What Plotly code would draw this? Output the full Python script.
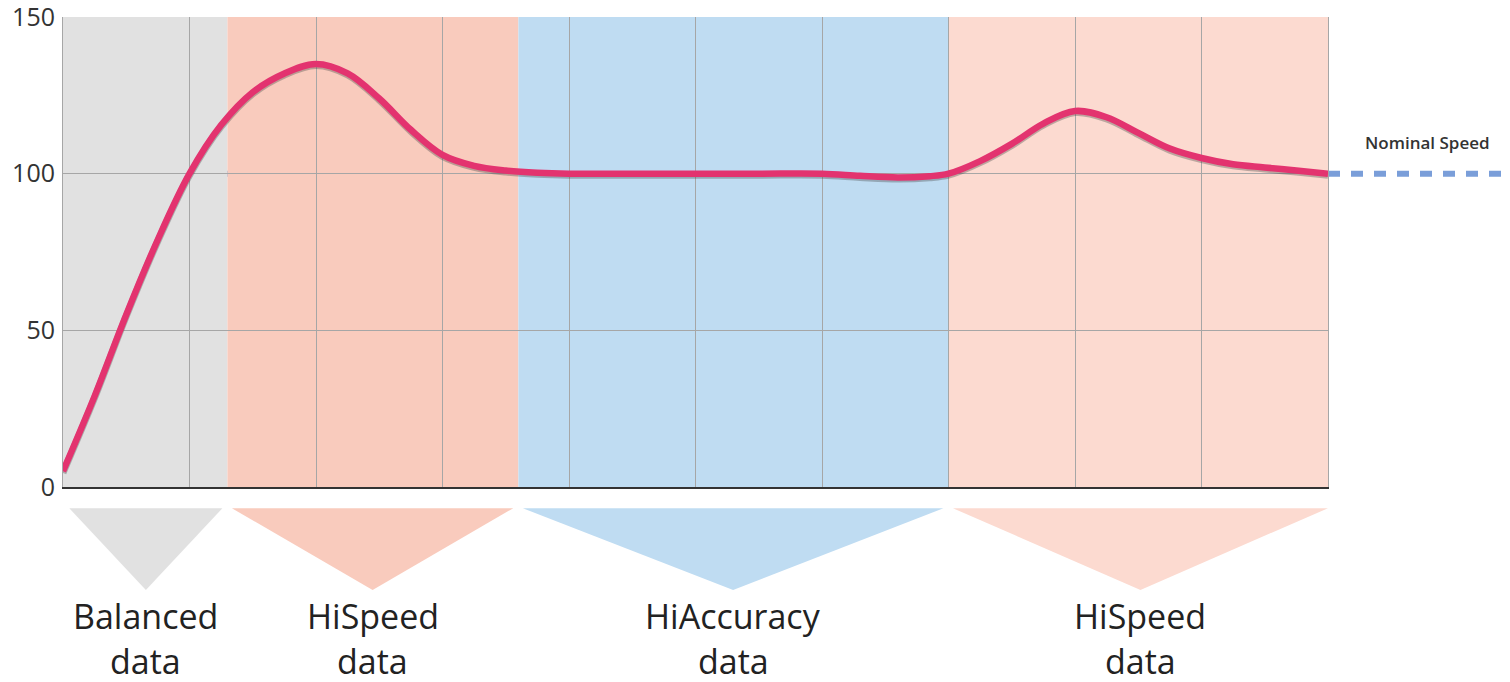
import plotly.graph_objects as go

# ---- data ----
speed_x = [0, 0.25, 0.5, 0.75, 1.0, 1.25, 1.5, 1.75, 2.0, 2.25, 2.5, 2.75, 3.0, 3.25, 3.5, 3.75,
           4.0, 4.5, 5.0, 5.5, 6.0, 6.3, 6.6, 6.85, 7.0, 7.25, 7.5, 7.75, 8.0, 8.25, 8.5, 8.75,
           9.0, 9.25, 9.5, 9.75, 10.0]
speed_y = [5, 29, 55, 79, 100, 115.5, 126, 132, 135, 132, 124, 114, 106, 102.5, 101, 100.3,
           100, 100, 100, 100, 100, 99.3, 98.8, 99.2, 100, 104, 109.5, 116, 120, 118, 113, 108,
           105, 103, 102, 101, 100]
nominal_speed = 100
nominal_label = "Nominal Speed"

band_edges = [0, 1.3, 3.6, 7.0, 10]
band_names = ["Balanced", "HiSpeed", "HiAccuracy", "HiSpeed"]
band_colors = ["#e1e1e1", "#f9cbbd", "#bfdcf2", "#fcdad0"]
band_sub = "data"

y_ticks = [0, 50, 100, 150]
x_grid = list(range(0, 11))

FONT = "Open Sans"

fig = go.Figure()

# soft shadow of the curve (same data on an overlay axis shifted ~1.5px down)
fig.add_trace(go.Scatter(
    x=speed_x, y=speed_y, mode="lines",
    line=dict(color="rgba(70,70,70,0.35)", width=7, shape="spline", smoothing=1.0),
    xaxis="x", yaxis="y2", hoverinfo="skip", showlegend=False))
# main curve (on an overlay axis with the same range so it sits above the shadow)
fig.add_trace(go.Scatter(
    x=speed_x, y=speed_y, mode="lines",
    line=dict(color="#e3336f", width=6.5, shape="spline", smoothing=1.0),
    xaxis="x", yaxis="y3", showlegend=False))

shapes = []
annotations = []
for i, name in enumerate(band_names):
    x0, x1 = band_edges[i], band_edges[i + 1]
    shapes.append(dict(type="rect", xref="x", yref="y", x0=x0, x1=x1, y0=0, y1=150,
                       fillcolor=band_colors[i], line=dict(width=0), layer="below"))
    t0 = x0 + (0.05 if i == 0 else 0.035)
    t1 = x1 - (0.0 if i == len(band_names) - 1 else 0.04)
    tm = (t0 + t1) / 2
    shapes.append(dict(type="path", xref="x", yref="paper",
                       path=f"M {t0},-0.045 L {t1},-0.045 L {tm},-0.219 Z",
                       fillcolor=band_colors[i], line=dict(width=0)))
    annotations.append(dict(text=name, xref="x", yref="paper", x=tm, y=-0.275,
                            showarrow=False, xanchor="center", yanchor="middle",
                            font=dict(family=FONT, size=34, color="#222")))
    annotations.append(dict(text=band_sub, xref="x", yref="paper", x=tm, y=-0.371,
                            showarrow=False, xanchor="center", yanchor="middle",
                            font=dict(family=FONT, size=34, color="#222")))

# nominal dashed line extending past the plot
shapes.append(dict(type="line", xref="paper", yref="y", x0=0, x1=1.2, y0=nominal_speed, y1=nominal_speed,
                   line=dict(color="#7a9ed9", width=6, dash="12px,11px"), layer="between"))
annotations.append(dict(text=nominal_label, xref="paper", yref="y", x=1.079, y=nominal_speed + 9.8,
                        showarrow=False, xanchor="center", yanchor="middle",
                        font=dict(family=FONT, size=17, color="#333", weight=600)))

fig.update_layout(
    width=1502, height=674,
    margin=dict(l=55, r=182, t=9, b=195, autoexpand=False),
    paper_bgcolor="white", plot_bgcolor="white",
    shapes=shapes, annotations=annotations, showlegend=False,
    xaxis=dict(range=[0, 10], tickvals=x_grid, showticklabels=False, showgrid=True,
               gridcolor="#a6a6a6", gridwidth=1, zeroline=False, automargin=False,
               showline=True, linecolor="#333", linewidth=2, ticks=""),
    yaxis=dict(range=[0, 150], tickvals=y_ticks, showgrid=True, gridcolor="#a6a6a6", gridwidth=1,
               zeroline=False, showline=True, linecolor="#a6a6a6", linewidth=1, mirror=True,
               automargin=False, ticks="", tickfont=dict(family=FONT, size=25, color="#333"),
               ticklabelstandoff=2, ticklabeloverflow="allow"),
    yaxis2=dict(range=[0.5, 150.5], overlaying="y", visible=False),
    yaxis3=dict(range=[0, 150], overlaying="y", visible=False),
)

fig.write_html("out.html")
